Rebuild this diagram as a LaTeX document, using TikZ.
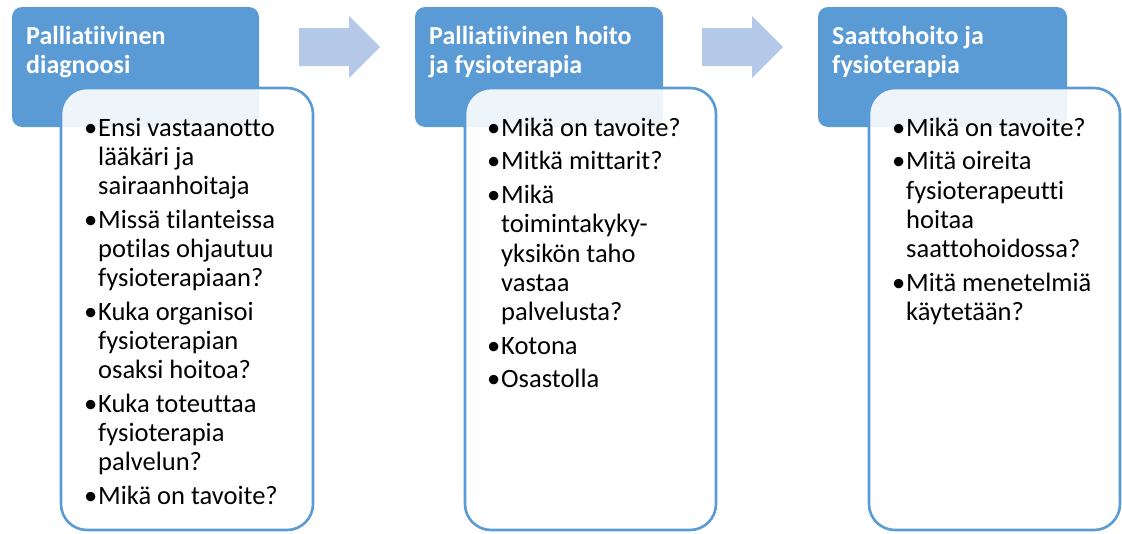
\documentclass[tikz,border=0pt]{standalone}
\usepackage{fontspec}
\setmainfont{Carlito}[Ligatures={NoCommon}]
\definecolor{accent}{HTML}{5B9BD5}
\definecolor{arrowblue}{HTML}{B4C8E8}
% bullet line and continuation line with a hanging indent
\newcommand\bul{\makebox[13pt][l]{\hspace*{-1pt}\textbullet}}
\newcommand\cnt{\hspace*{13pt}}

\begin{document}
\begin{tikzpicture}[x=1pt,y=-1pt,
  headbox/.style={fill=accent, rounded corners=10pt},
  listbox/.style={draw=accent, line width=2.6pt, fill=white, fill opacity=0.9, rounded corners=26pt},
  headtext/.style={anchor=north west, inner sep=0pt, align=left, text=white,
    font=\fontsize{26}{29}\selectfont\bfseries},
  listtext/.style={anchor=north west, inner sep=0pt, align=left,
    font=\fontsize{26.5}{29.2}\selectfont},
  flowarrow/.style={fill=arrowblue}]

\useasboundingbox (0,0) rectangle (1122,533);

% block arrows between the stages
\fill[flowarrow] (299,28) -- (349,28) -- (349,16) -- (380,47) -- (349,78) -- (349,66) -- (299,66) -- cycle;
\fill[flowarrow] (702,28) -- (752,28) -- (752,16) -- (783,47) -- (752,78) -- (752,66) -- (702,66) -- cycle;

% stage headers
\fill[headbox] (12,7) rectangle (259,127);
\fill[headbox] (415,7) rectangle (663,127);
\fill[headbox] (818,7) rectangle (1067,127);

\node[headtext] (hdrA) at (26,23.7) {\strut Palliatiivinen\\diagnoosi};
\node[headtext] (hdrB) at (429,23.7) {\strut Palliatiivinen hoito\\ja fysioterapia};
\node[headtext] (hdrC) at (832,23.7) {\strut Saattohoito ja\\fysioterapia};

% question lists
\path[listbox] (61,88) rectangle (313,530);
\path[listbox] (465,88) rectangle (716,530);
\path[listbox] (869,88) rectangle (1120,530);

\node[listtext] (listA) at (85,115.6) {%
  \strut\bul Ensi vastaanotto\\
  \cnt lääkäri ja\\
  \cnt sairaanhoitaja\\[4.5pt]
  \bul Missä tilanteissa\\
  \cnt potilas ohjautuu\\
  \cnt fysioterapiaan?\\[4.5pt]
  \bul Kuka organisoi\\
  \cnt fysioterapian\\
  \cnt osaksi hoitoa?\\[4.5pt]
  \bul Kuka toteuttaa\\
  \cnt fysioterapia\\
  \cnt palvelun?\\[4.5pt]
  \bul Mikä on tavoite?};

\node[listtext] (listB) at (488,115.6) {%
  \strut\bul Mikä on tavoite?\\[4.5pt]
  \bul Mitkä mittarit?\\[4.5pt]
  \bul Mikä\\
  \cnt toimintakyky-\\
  \cnt yksikön taho\\
  \cnt vastaa\\
  \cnt palvelusta?\\[4.5pt]
  \bul Kotona\\[4.5pt]
  \bul Osastolla};

\node[listtext] (listC) at (893,115.6) {%
  \strut\bul Mikä on tavoite?\\[4.5pt]
  \bul Mitä oireita\\
  \cnt fysioterapeutti\\
  \cnt hoitaa\\
  \cnt saattohoidossa?\\[4.5pt]
  \bul Mitä menetelmiä\\
  \cnt käytetään?};
\end{tikzpicture}
\end{document}
